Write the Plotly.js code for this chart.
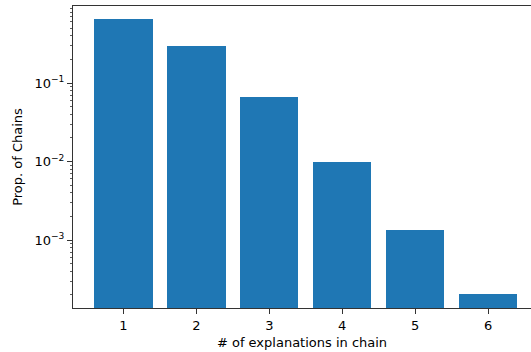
<!DOCTYPE html>
<html>
<head>
<meta charset="utf-8">
<script src="https://cdn.plot.ly/plotly-3.0.1.min.js"></script>
<style>html,body{margin:0;padding:0;background:#fff;}#chart{width:531px;height:352px;}</style>
</head>
<body>
<div id="chart"></div>
<script>
const categories = [1, 2, 3, 4, 5, 6];
const proportions = [0.647, 0.294, 0.0658, 0.0100, 0.00134, 0.000205];
const yTickVals = [0.001, 0.01, 0.1];
const yTickText = ['10<sup>−3</sup>', '10<sup>−2</sup>', '10<sup>−1</sup>'];

const trace = {
  type: 'bar',
  x: categories,
  y: proportions,
  width: 0.8,
  marker: {color: '#1f77b4', line: {width: 0}},
  hoverinfo: 'none'
};

const font = {family: 'DejaVu Sans, sans-serif', size: 13, color: '#000'};

const layout = {
  width: 531, height: 352,
  margin: {l: 73, r: 0, t: 6, b: 44},
  paper_bgcolor: '#fff', plot_bgcolor: '#fff',
  showlegend: false,
  bargap: 0,
  font: font,
  xaxis: {
    range: [0.31, 6.587],
    tickvals: categories,
    ticktext: categories.map(String),
    ticks: 'outside', ticklen: 5, tickwidth: 1, tickcolor: '#333',
    showline: true, linecolor: '#333', linewidth: 1, mirror: true,
    showgrid: false, zeroline: false,
    tickfont: font,
    title: {text: '# of explanations in chain', font: font, standoff: 6}
  },
  yaxis: {
    type: 'log',
    range: [-3.866, -0.019],
    tickvals: yTickVals,
    ticktext: yTickText,
    ticks: 'outside', ticklen: 5, tickwidth: 1, tickcolor: '#333',
    minor: {ticks: 'outside', ticklen: 2.5, tickwidth: 0.8, tickcolor: '#333', dtick: 'D1', showgrid: false},
    showline: true, linecolor: '#333', linewidth: 1, mirror: false,
    showgrid: false, zeroline: false,
    tickfont: font,
    title: {text: 'Prop. of Chains', font: font, standoff: 8}
  }
};

Plotly.newPlot('chart', [trace], layout, {staticPlot: true, displayModeBar: false});
</script>
</body>
</html>
